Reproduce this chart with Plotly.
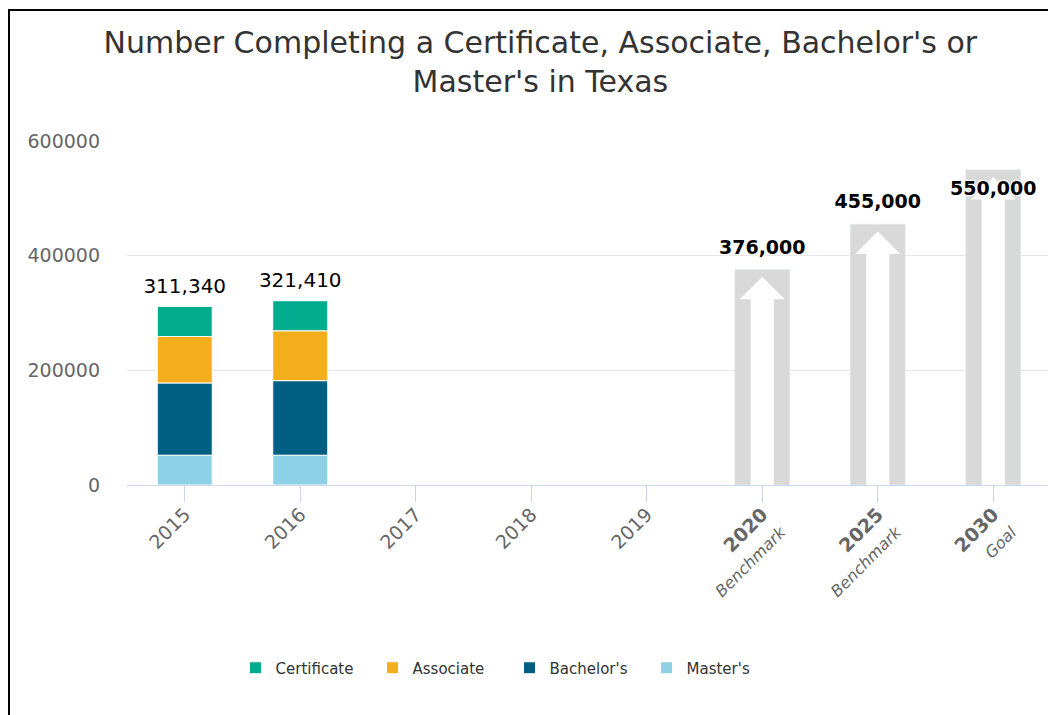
import plotly.graph_objects as go

# Data
years = ["2015", "2016", "2017", "2018", "2019", "2020", "2025", "2030"]
tick_labels = [
    "2015", "2016", "2017", "2018", "2019",
    "<b>2020</b><br><i><span style='font-size:16px'>Benchmark</span></i>",
    "<b>2025</b><br><i><span style='font-size:16px'>Benchmark</span></i>",
    "<b>2030</b><br><i><span style='font-size:16px'>Goal</span></i>",
]
certificate = [52340, 52410, None, None, None, None, None, None]
associate = [81000, 87000, None, None, None, None, None, None]
bachelors = [126000, 130000, None, None, None, None, None, None]
masters = [52000, 52000, None, None, None, None, None, None]
targets = [None, None, None, None, None, 376000, 455000, 550000]

colors = {
    "Certificate": "#00ab8e",
    "Associate": "#f5ae1b",
    "Bachelor's": "#005f83",
    "Master's": "#8dd1e7",
}

x = list(range(len(years)))
fig = go.Figure()

# stacked bars, bottom to top (overlay mode, so bases come from running totals)
stack = [("Master's", masters), ("Bachelor's", bachelors),
         ("Associate", associate), ("Certificate", certificate)]
base = [0 if v is not None else None for v in masters]
for name, vals in stack:
    fig.add_trace(go.Bar(
        x=x, y=vals, base=base, name=name, width=0.476,
        marker=dict(color=colors[name], line=dict(color="white", width=1)),
        legendrank={"Certificate": 1, "Associate": 2, "Bachelor's": 3, "Master's": 4}[name],
        hoverinfo="skip",
    ))
    base = [b + v if v is not None else None for b, v in zip(base, vals)]

totals = base
fig.add_trace(go.Scatter(
    x=x, y=totals, mode="markers+text",
    text=[f"{t:,}" if t else "" for t in totals],
    textposition="top center",
    marker=dict(size=12, opacity=0),
    textfont=dict(family="DejaVu Sans", size=20, color="#000000"),
    showlegend=False, hoverinfo="skip",
))

# benchmark / goal bars with arrow cut out
fig.add_trace(go.Bar(
    x=x, y=targets, width=0.476,
    marker=dict(color="#d9d9d9"),
    showlegend=False, hoverinfo="skip",
))
for i, t in zip(x, targets):
    if t is None:
        continue
    tip = t - 13000
    neck = t - 52000
    fig.add_trace(go.Scatter(
        x=[i - 0.1, i - 0.1, i - 0.195, i, i + 0.195, i + 0.1, i + 0.1, i - 0.1],
        y=[0, neck, neck, tip, neck, neck, 0, 0],
        mode="lines", fill="toself", fillcolor="white",
        line=dict(width=0, color="white"),
        showlegend=False, hoverinfo="skip",
    ))

fig.add_trace(go.Scatter(
    x=x, y=targets, mode="markers+text",
    text=[f"{t:,}" if t else "" for t in targets],
    textposition=["top center"] * 7 + ["bottom center"],
    marker=dict(size=16, opacity=0),
    textfont=dict(family="DejaVu Sans", size=19, color="#000000", weight="bold",
                  shadow="1px 1px 1px white, -1px -1px 1px white, 1px -1px 1px white, -1px 1px 1px white"),
    showlegend=False, hoverinfo="skip",
))

fig.update_layout(
    width=1048, height=707,
    barmode="overlay",
    margin=dict(l=119, r=5, t=133, b=230),
    paper_bgcolor="white", plot_bgcolor="white",
    font=dict(family="DejaVu Sans", color="#333333"),
    title=dict(
        text="Number Completing a Certificate, Associate, Bachelor's or<br>Master's in Texas",
        x=0.508, xref="container", xanchor="center",
        y=1 - 45 / 707, yanchor="middle",
        font=dict(size=30, color="#333333"),
    ),
    legend=dict(
        orientation="h", x=0.414, xanchor="center", y=-0.532, yanchor="middle",
        font=dict(size=15, color="#333333"), traceorder="normal",
        entrywidth=92, entrywidthmode="pixels",
    ),
    shapes=[dict(type="rect", xref="paper", yref="paper",
                 x0=-0.1277, x1=1.02, y0=-0.7, y1=1.381,
                 line=dict(color="black", width=2), layer="above")],
)

fig.update_xaxes(
    range=[-0.5, 7.5], tickvals=x, ticktext=tick_labels, tickangle=-45,
    showgrid=False, zeroline=False, showline=True, linecolor="#ccd6eb",
    ticks="outside", ticklen=16, tickcolor="#ccd6eb",
    ticklabelstandoff=-6,
    tickfont=dict(size=19, color="#666666"),
)
fig.update_yaxes(
    range=[0, 600000], tickvals=[0, 200000, 400000, 600000],
    ticktext=["0", "200000", "400000", "600000"],
    showgrid=True, gridcolor="#e6e6e6", zeroline=False,
    ticklabelstandoff=26, tickfont=dict(size=19, color="#666666"),
)

fig.write_html("out.html")
